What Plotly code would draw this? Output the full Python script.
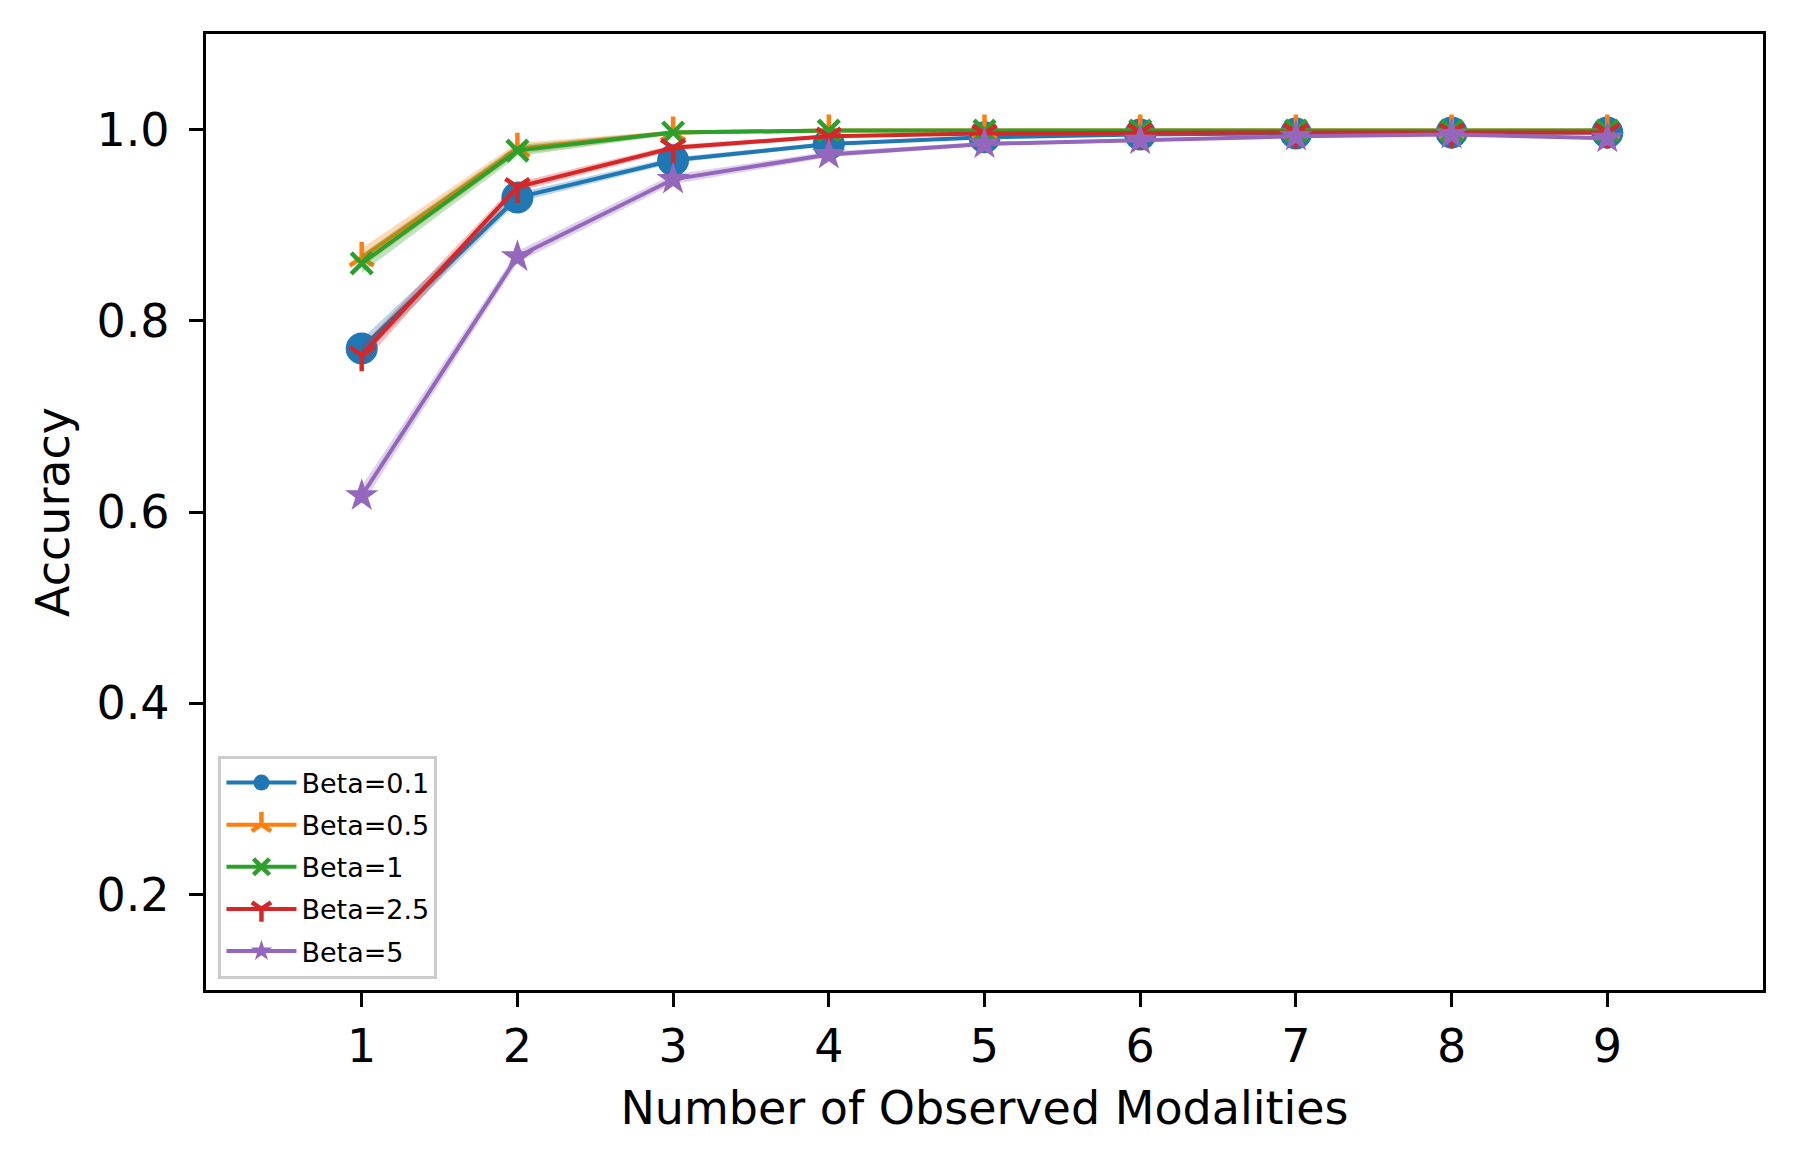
import plotly.graph_objects as go

# ---- data ----
x_modalities = [1, 2, 3, 4, 5, 6, 7, 8, 9]
series_names = ["Beta=0.1", "Beta=0.5", "Beta=1", "Beta=2.5", "Beta=5"]

acc_beta_0_1 = [0.771, 0.929, 0.968, 0.985, 0.992, 0.995, 0.996, 0.997, 0.997]
acc_beta_0_5 = [0.866, 0.980, 0.997, 0.999, 0.999, 0.999, 0.999, 0.999, 0.999]
acc_beta_1 = [0.860, 0.978, 0.997, 0.999, 0.999, 0.999, 0.999, 0.999, 0.999]
acc_beta_2_5 = [0.764, 0.940, 0.981, 0.993, 0.996, 0.997, 0.997, 0.997, 0.997]
acc_beta_5 = [0.617, 0.867, 0.948, 0.974, 0.985, 0.989, 0.993, 0.995, 0.991]

std_beta_0_1 = [0.010, 0.005, 0.003, 0.002, 0.001, 0.001, 0.001, 0.001, 0.001]
std_beta_0_5 = [0.010, 0.006, 0.002, 0.001, 0.001, 0.001, 0.001, 0.001, 0.001]
std_beta_1 = [0.010, 0.006, 0.002, 0.001, 0.001, 0.001, 0.001, 0.001, 0.001]
std_beta_2_5 = [0.010, 0.005, 0.003, 0.002, 0.001, 0.001, 0.001, 0.001, 0.001]
std_beta_5 = [0.010, 0.006, 0.005, 0.003, 0.002, 0.002, 0.001, 0.001, 0.002]

x_ticks = [1, 2, 3, 4, 5, 6, 7, 8, 9]
y_ticks = [0.2, 0.4, 0.6, 0.8, 1.0]
y_tick_labels = ["0.2", "0.4", "0.6", "0.8", "1.0"]

# ---- styling ----
colors = ["#1f77b4", "#ff7f0e", "#2ca02c", "#d62728", "#9467bd"]
band_colors = ["rgba(31,119,180,0.3)", "rgba(255,127,14,0.3)", "rgba(44,160,44,0.3)",
               "rgba(214,39,40,0.3)", "rgba(148,103,189,0.3)"]
symbols = ["circle", "y-up", "x-thin", "y-down", "star"]
sizes = [32, 20, 21, 20, 25]

means = [acc_beta_0_1, acc_beta_0_5, acc_beta_1, acc_beta_2_5, acc_beta_5]
stds = [std_beta_0_1, std_beta_0_5, std_beta_1, std_beta_2_5, std_beta_5]

FONT = "DejaVu Sans"
fig = go.Figure()

for i, (name, m, s, c, bc, sym, sz) in enumerate(zip(series_names, means, stds, colors, band_colors, symbols, sizes)):
    upper = [a + b for a, b in zip(m, s)]
    lower = [a - b for a, b in zip(m, s)]
    grp = f"g{i}"
    fig.add_trace(go.Scatter(x=x_modalities, y=upper, mode="lines", line=dict(width=0, color=bc),
                             showlegend=False, hoverinfo="skip", legendgroup=grp))
    fig.add_trace(go.Scatter(x=x_modalities, y=lower, mode="lines", line=dict(width=0, color=bc),
                             fill="tonexty", fillcolor=bc, showlegend=False, hoverinfo="skip",
                             legendgroup=grp))
    line_only = sym in ("y-up", "y-down", "x-thin")
    fig.add_trace(go.Scatter(
        x=x_modalities, y=m, mode="lines+markers", name=name, legendgroup=grp,
        line=dict(color=c, width=4),
        marker=dict(symbol=sym, size=sz, color=c,
                    line=dict(color=c, width=4.5 if line_only else 0)),
    ))

axis_common = dict(
    showline=True, linecolor="black", linewidth=3.3, mirror=True,
    ticks="outside", ticklen=14, tickwidth=3.3, tickcolor="black",
    showgrid=False, zeroline=False,
    tickfont=dict(family=FONT, size=46, color="black"),
)

fig.update_layout(
    width=1797, height=1167,
    margin=dict(l=206, r=34, t=34, b=177, pad=0),
    paper_bgcolor="white", plot_bgcolor="white",
    font=dict(family=FONT, color="black"),
    xaxis=dict(range=[0, 10], tickvals=x_ticks, ticktext=[str(t) for t in x_ticks],
               title=dict(text="Number of Observed Modalities", font=dict(family=FONT, size=46), standoff=20),
               ticklabelstandoff=0, **axis_common),
    yaxis=dict(range=[0.1, 1.1], tickvals=y_ticks, ticktext=y_tick_labels,
               title=dict(text="Accuracy", font=dict(family=FONT, size=46), standoff=13),
               ticklabelstandoff=10, **axis_common),
    legend=dict(x=0.008, y=0.012, xanchor="left", yanchor="bottom",
                bgcolor="rgba(255,255,255,0.8)", bordercolor="#cccccc", borderwidth=3,
                font=dict(family=FONT, size=27, color="black"), tracegroupgap=4,
                traceorder="grouped", itemwidth=70),
    showlegend=True,
)

fig.write_html("out.html", config={"displayModeBar": False},
               post_script="document.body.style.margin='0';")
